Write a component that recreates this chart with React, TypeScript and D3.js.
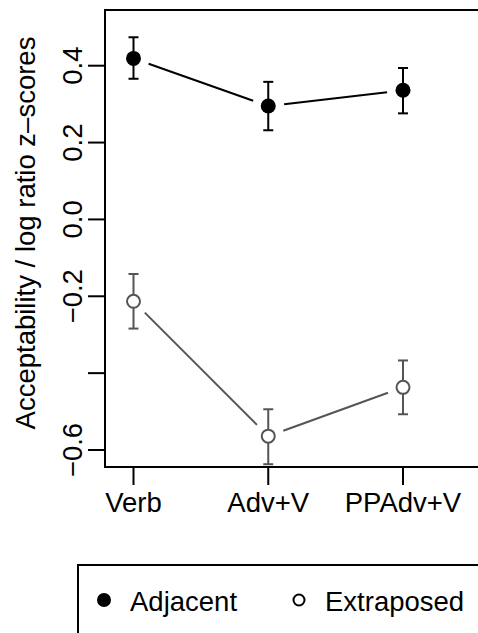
import React, { useEffect, useRef } from 'react';
import * as d3 from 'd3';

// conditions along the x axis
const categories = ['Verb', 'Adv+V', 'PPAdv+V'];

// means and error bar ends
const adjacentMean = [0.419, 0.295, 0.336];
const adjacentLow = [0.366, 0.232, 0.276];
const adjacentHigh = [0.474, 0.358, 0.394];

const extraposedMean = [-0.213, -0.564, -0.437];
const extraposedLow = [-0.284, -0.637, -0.507];
const extraposedHigh = [-0.142, -0.494, -0.367];

const yTicks = [-0.6, -0.4, -0.2, 0, 0.2, 0.4];
const yTickLabels = ['\u22120.6', '', '\u22120.2', '0.0', '0.2', '0.4'];

const legendLabels = ['Adjacent', 'Extraposed'];

const FONT = '"Liberation Sans", Arial, Helvetica, sans-serif';

const App = () => {
  const ref = useRef<SVGSVGElement | null>(null);

  useEffect(() => {
    document.body.style.margin = '0';
    const width = 478;
    const height = 633;
    const box = { left: 105, top: 10, right: 520, bottom: 467 };

    const svg = d3.select(ref.current);
    svg.selectAll('*').remove();
    svg.attr('width', width).attr('height', height);

    const x = d3.scalePoint<string>().domain(categories).range([133.5, 403]);
    const y = d3.scaleLinear().domain([-0.6, 0.4]).range([450, 65.7]);

    // frame
    svg.append('rect')
      .attr('x', box.left)
      .attr('y', box.top)
      .attr('width', box.right - box.left)
      .attr('height', box.bottom - box.top)
      .attr('fill', 'none')
      .attr('stroke', '#000')
      .attr('stroke-width', 2);

    // y axis ticks + labels
    const yAxis = svg.append('g');
    yAxis.selectAll('line')
      .data(yTicks)
      .enter()
      .append('line')
      .attr('x1', box.left - 17)
      .attr('x2', box.left)
      .attr('y1', d => y(d))
      .attr('y2', d => y(d))
      .attr('stroke', '#000')
      .attr('stroke-width', 2);
    yAxis.selectAll('text')
      .data(yTicks)
      .enter()
      .append('text')
      .attr('transform', d => `translate(82,${y(d)}) rotate(-90)`)
      .attr('text-anchor', 'middle')
      .style('font-family', FONT)
      .style('font-size', '27.5px')
      .text((d, i) => yTickLabels[i]);

    svg.append('text')
      .attr('transform', `translate(35,${233}) rotate(-90)`)
      .attr('text-anchor', 'middle')
      .style('font-family', FONT)
      .style('font-size', '27.5px')
      .text('Acceptability / log ratio z\u2013scores');

    // x axis ticks + labels
    const xAxis = svg.append('g');
    xAxis.selectAll('line')
      .data(categories)
      .enter()
      .append('line')
      .attr('x1', d => x(d) as number)
      .attr('x2', d => x(d) as number)
      .attr('y1', box.bottom)
      .attr('y2', box.bottom + 18)
      .attr('stroke', '#000')
      .attr('stroke-width', 2);
    xAxis.selectAll('text')
      .data(categories)
      .enter()
      .append('text')
      .attr('x', d => x(d) as number)
      .attr('y', 511.5)
      .attr('text-anchor', 'middle')
      .style('font-family', FONT)
      .style('font-size', '27.5px')
      .text(d => d);

    const series = [
      { mean: adjacentMean, low: adjacentLow, high: adjacentHigh, color: '#000', filled: true },
      { mean: extraposedMean, low: extraposedLow, high: extraposedHigh, color: '#555', filled: false },
    ];

    const gap = 16;
    series.forEach(s => {
      const g = svg.append('g');
      const pts = categories.map((c, i) => [x(c) as number, y(s.mean[i])]);

      // connecting lines with gaps round the points (type = "b")
      for (let i = 0; i < pts.length - 1; i++) {
        const [x0, y0] = pts[i];
        const [x1, y1] = pts[i + 1];
        const len = Math.hypot(x1 - x0, y1 - y0);
        const ux = (x1 - x0) / len;
        const uy = (y1 - y0) / len;
        g.append('line')
          .attr('x1', x0 + ux * gap)
          .attr('y1', y0 + uy * gap)
          .attr('x2', x1 - ux * gap)
          .attr('y2', y1 - uy * gap)
          .attr('stroke', s.color)
          .attr('stroke-width', 2);
      }

      // error bars
      categories.forEach((c, i) => {
        const cx = x(c) as number;
        g.append('line')
          .attr('x1', cx).attr('x2', cx)
          .attr('y1', y(s.low[i])).attr('y2', y(s.high[i]))
          .attr('stroke', s.color).attr('stroke-width', 2);
        [s.low[i], s.high[i]].forEach(v => {
          g.append('line')
            .attr('x1', cx - 5).attr('x2', cx + 5)
            .attr('y1', y(v)).attr('y2', y(v))
            .attr('stroke', s.color).attr('stroke-width', 2);
        });
      });

      g.selectAll('circle')
        .data(s.mean)
        .enter()
        .append('circle')
        .attr('cx', (d, i) => x(categories[i]) as number)
        .attr('cy', d => y(d))
        .attr('r', s.filled ? 7.5 : 6.5)
        .attr('fill', s.filled ? s.color : '#fff')
        .attr('stroke', s.color)
        .attr('stroke-width', s.filled ? 0 : 2);
    });

    // legend
    const legend = svg.append('g');
    legend.append('rect')
      .attr('x', 78)
      .attr('y', 565)
      .attr('width', 460)
      .attr('height', 120)
      .attr('fill', 'none')
      .attr('stroke', '#000')
      .attr('stroke-width', 2);
    const legendX = [104, 299];
    legendLabels.forEach((label, i) => {
      legend.append('circle')
        .attr('cx', legendX[i])
        .attr('cy', 600)
        .attr('r', i === 0 ? 7 : 5.5)
        .attr('fill', i === 0 ? '#000' : '#fff')
        .attr('stroke', '#000')
        .attr('stroke-width', i === 0 ? 0 : 2);
      legend.append('text')
        .attr('x', legendX[i] + 26)
        .attr('y', 610.5)
        .style('font-family', FONT)
        .style('font-size', '27.5px')
        .text(label);
    });
  }, []);

  return <svg ref={ref} style={{ display: 'block' }}></svg>;
};

export default App;
